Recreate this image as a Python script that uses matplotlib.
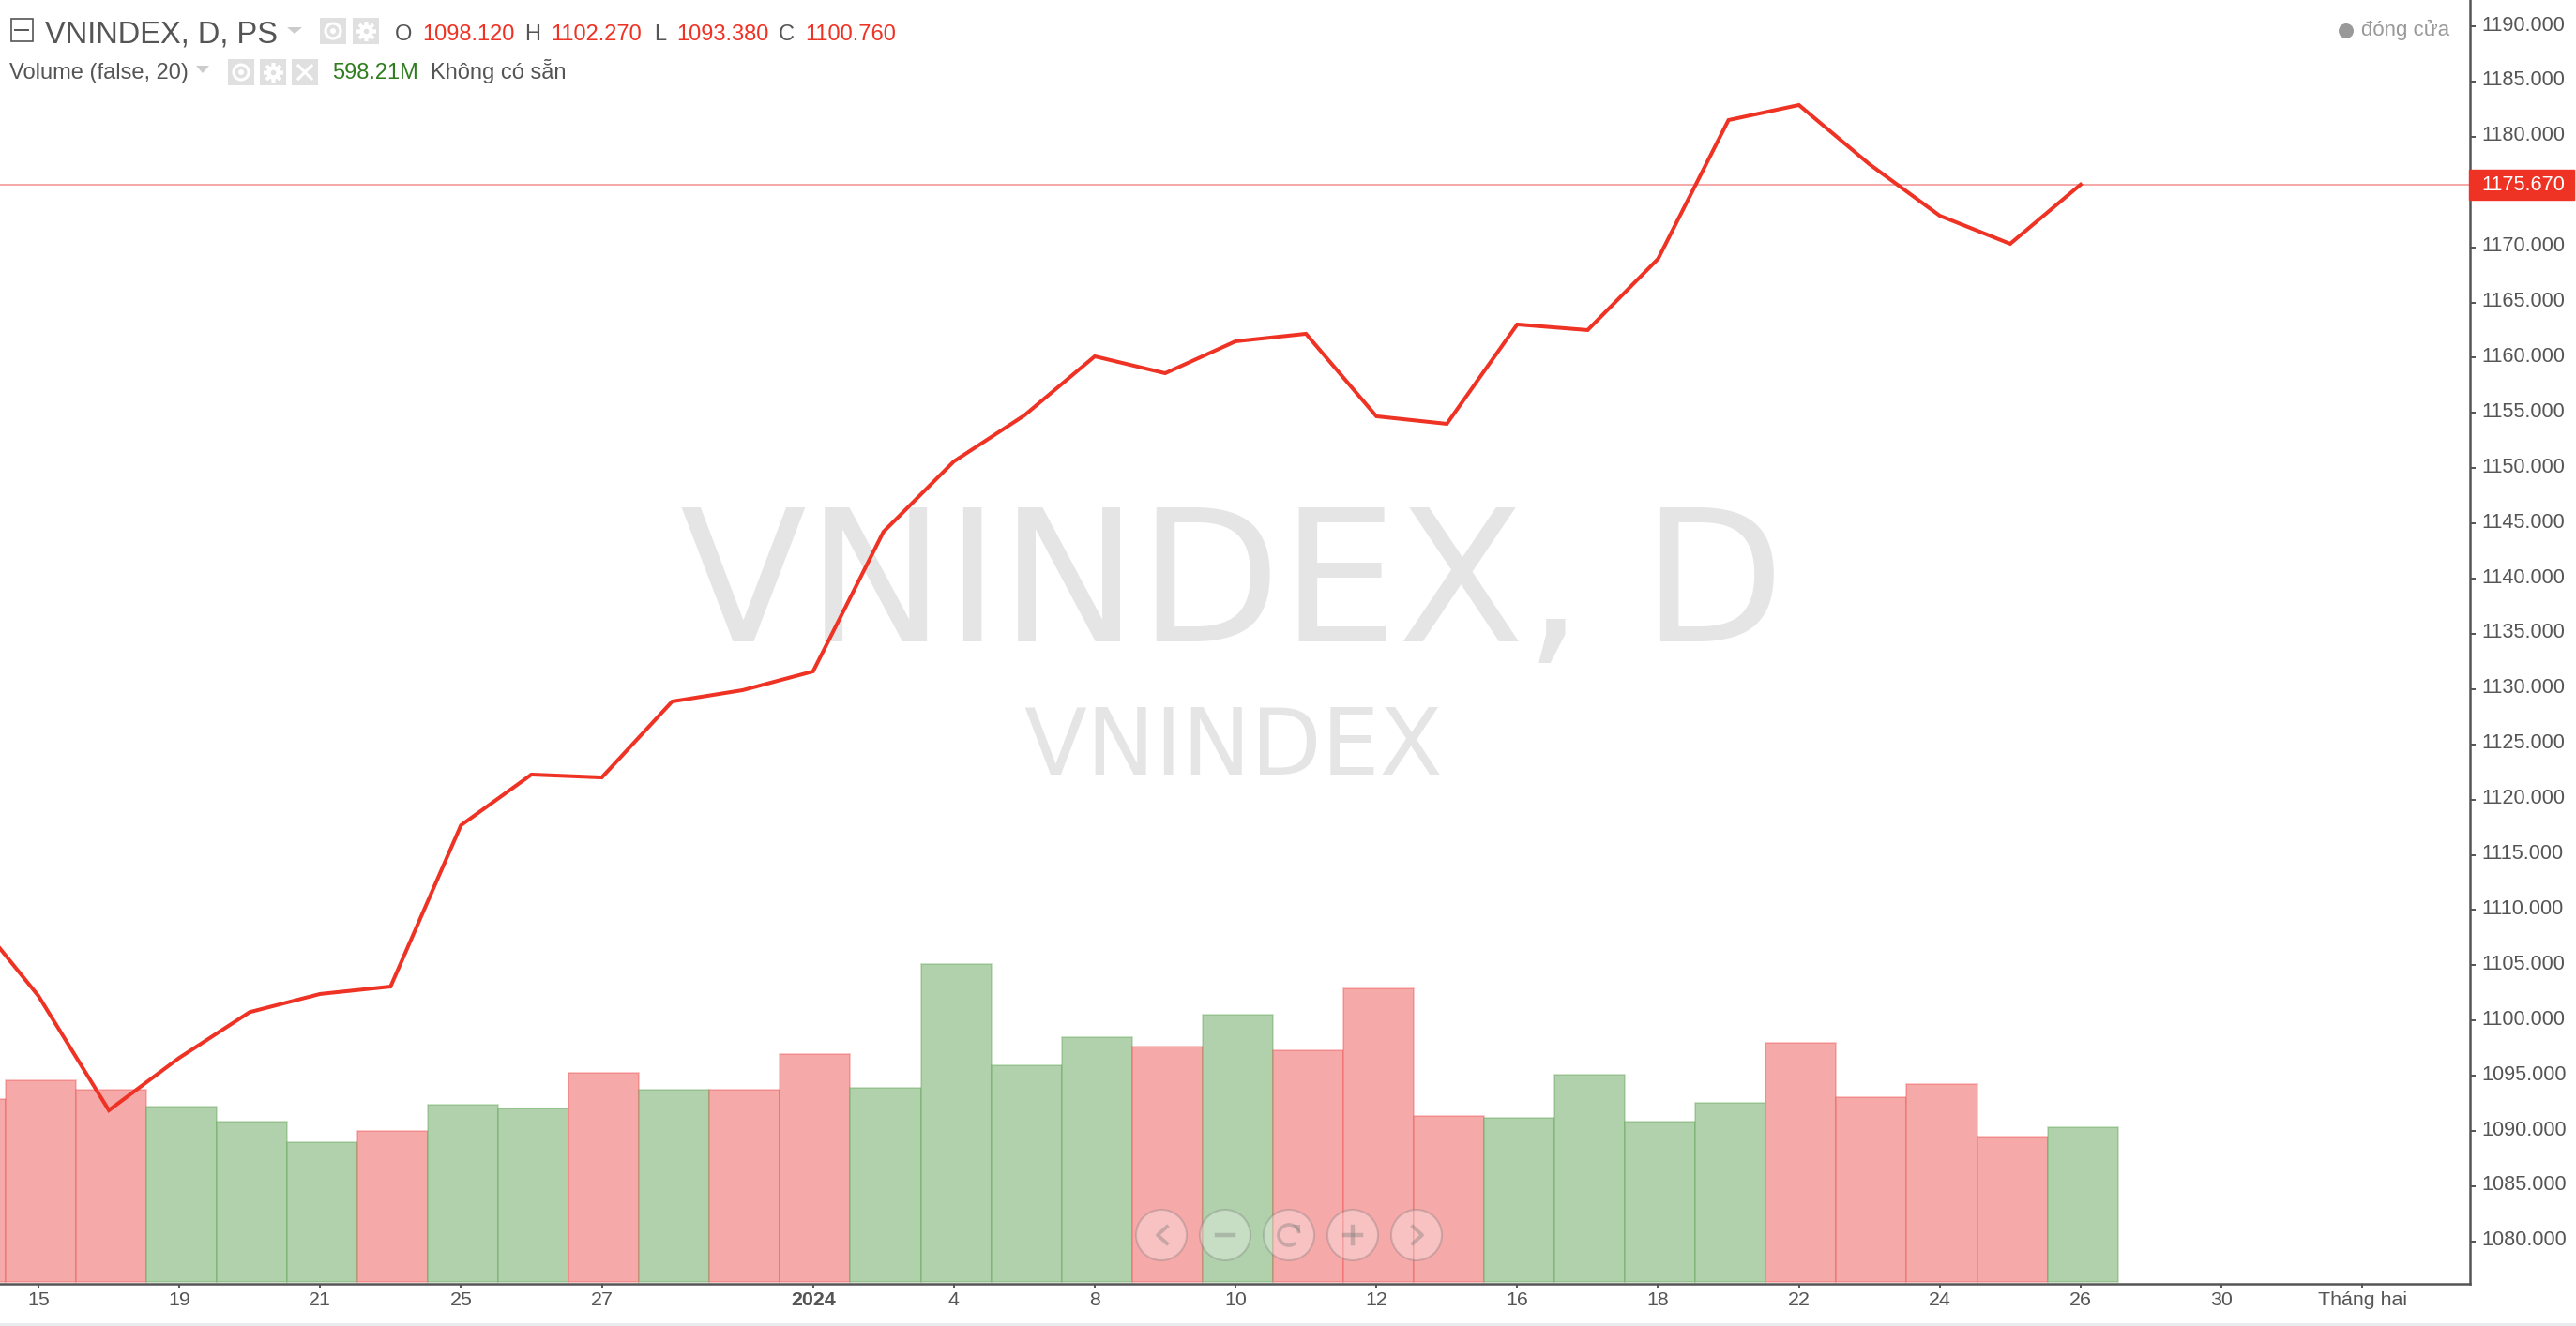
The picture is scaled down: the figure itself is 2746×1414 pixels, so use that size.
import matplotlib
matplotlib.use("Agg")
import matplotlib.pyplot as plt
from matplotlib.patches import Circle, Rectangle, Arc
from matplotlib.transforms import ScaledTranslation, blended_transform_factory

W, H = 2746, 1414

# daily sessions, numbered so that 0 is the session labelled 15
sessions = list(range(-1, 30))
closes = [1110.08, 1102.22, 1091.87, 1096.62, 1100.76, 1102.40, 1103.07, 1117.67, 1122.26, 1122.00,
          1128.88, 1129.90, 1131.60, 1144.24, 1150.61, 1154.77, 1160.12, 1158.59, 1161.48, 1162.16,
          1154.69, 1154.01, 1163.01, 1162.50, 1168.95, 1181.51, 1182.87, 1177.52, 1172.85, 1170.31, 1175.67]
volumes = [650, 717, 683, 623, 570, 497, 537, 630, 617, 743,
           683, 683, 810, 690, 1130, 770, 870, 837, 950, 823,
           1043, 590, 583, 737, 570, 637, 850, 657, 703, 517, 550]
vol_up = [0, 0, 0, 1, 1, 1, 0, 1, 1, 0,
          1, 0, 0, 1, 1, 1, 1, 0, 1, 0,
          0, 0, 1, 1, 1, 1, 0, 0, 0, 0, 1]

x_tick_sessions = [0, 2, 4, 6, 8, 11, 13, 15, 17, 19, 21, 23, 25, 27, 29, 31, 33]
x_tick_labels = ["15", "19", "21", "25", "27", "2024", "4", "8", "10", "12", "16", "18", "22", "24", "26", "30", "Tháng hai"]
y_ticks = list(range(1080, 1195, 5))
last_price = 1175.67

RED = "#EE3224"
GREEN = "#2F7D1E"
TEXT = "#555555"

plt.rcParams["font.family"] = ["Liberation Sans", "DejaVu Sans"]

fig = plt.figure(figsize=(W / 100, H / 100), dpi=100, facecolor="white")
rect = [0, 1 - 1369 / H, 2633 / W, 1369 / H]

# volume sits behind the price line, on its own hidden scale
ax_vol = fig.add_axes(rect, zorder=1)
ax_vol.set_xlim(-0.546, 34.53)
ax_vol.set_ylim(-6.7, 4556.7)
ax_vol.axis("off")
faces = ["#B0D1AB" if u else "#F5A9A9" for u in vol_up]
edges = [(0.30, 0.60, 0.25, 0.3) if u else (0.93, 0.25, 0.25, 0.3) for u in vol_up]
ax_vol.bar([s + 0.03 for s in sessions], volumes, width=1.0, color=faces, edgecolor=edges, linewidth=1.3)

ax_vol.text(725 / W, 1 - 684 / H, "VNINDEX, D", transform=fig.transFigure, family="DejaVu Sans",
            fontsize=142, color="#E5E5E5", ha="left", va="baseline", zorder=0)
ax_vol.text(1315 / W, 1 - 826 / H, "VNINDEX", transform=fig.transFigure, family="DejaVu Sans",
            fontsize=70.5, color="#E5E5E5", ha="center", va="baseline", zorder=0)

ax = fig.add_axes(rect, zorder=2)
ax.patch.set_visible(False)
ax.set_xlim(-0.546, 34.53)
ax.set_ylim(1190 - (1369 - 28) / 11.78, 1190 + 28 / 11.78)
ax.plot(sessions, closes, color=RED, linewidth=2.9, solid_joinstyle="miter", zorder=3)
ax.axhline(last_price, color="#F5A0A0", linewidth=1.3, zorder=1)

for side in ["left", "top"]:
    ax.spines[side].set_visible(False)
for side in ["right", "bottom"]:
    ax.spines[side].set_color(TEXT)
    ax.spines[side].set_linewidth(1.8)

ax.yaxis.tick_right()
ax.set_yticks(y_ticks)
# the 1175 label is hidden by the last price flag
ax.set_yticklabels(["" if v == 1175 else f"{v:.3f}" for v in y_ticks])
ax.set_xticks(x_tick_sessions)
ax.set_xticklabels(x_tick_labels)
ax.tick_params(axis="y", length=4.5, width=1.4, color=TEXT, labelcolor=TEXT, labelsize=15.6, pad=4.5)
ax.tick_params(axis="x", length=3.6, width=1.4, color=TEXT, labelcolor=TEXT, labelsize=15.4, pad=2.5)
ax.get_xticklabels()[x_tick_labels.index("2024")].set_fontweight("bold")
up_a_bit = ScaledTranslation(0, 3.5 / 100, fig.dpi_scale_trans)
for t in ax.get_yticklabels():
    t.set_transform(t.get_transform() + up_a_bit)

# last price flag on the right scale
flag = blended_transform_factory(ax.transAxes, ax.transData)
ax.add_patch(Rectangle((0.9996, last_price - 1.4), 112 / 2633, 2.72, transform=flag, color=RED,
                       clip_on=False, zorder=5))
ax.text(2645 / 2633, last_price - 0.02, f"{last_price:.3f}", transform=flag, color="white", fontsize=15.6,
        va="center", ha="left", zorder=6)

# page chrome drawn in pixel coordinates
ui = fig.add_axes([0, 0, 1, 1], zorder=3)
ui.set_xlim(0, W)
ui.set_ylim(H, 0)
ui.axis("off")
ui.add_patch(Rectangle((0, 1411), W, 3, color="#E9EBEE", lw=0))


def label(x, y, s, color=TEXT, size=17):
    ui.text(x, y, s, color=color, fontsize=size, ha="left", va="baseline")


def icon_box(x, y):
    ui.add_patch(Rectangle((x, y), 28, 28, color="#E0E0E0", lw=0))


def eye(x, y):
    icon_box(x, y)
    ui.add_patch(Circle((x + 14, y + 14), 8, fill=False, ec="white", lw=2.2))
    ui.add_patch(Circle((x + 14, y + 14), 3, color="white", lw=0))


def gear(x, y):
    icon_box(x, y)
    ui.plot([x + 14], [y + 14], marker=(8, 2, 0), ms=15, mew=2.6, color="white")
    ui.plot([x + 14], [y + 14], marker="o", ms=10.5, color="white", mew=0)
    ui.plot([x + 14], [y + 14], marker="o", ms=4, color="#E0E0E0", mew=0)


# header row 1
ui.add_patch(Rectangle((11.5, 19.5), 23, 24, fill=False, ec=TEXT, lw=1.2))
ui.plot([16, 30], [31.5, 31.5], color=TEXT, lw=1.4)
label(48, 45, "VNINDEX, D, PS", size=23.5)
ui.fill([306, 322, 314], [29, 29, 36], color="#CCCCCC", lw=0)
eye(341, 19)
gear(376, 19)
for x, s in [(421, "O"), (559, "H"), (697, "L"), (830, "C")]:
    label(x, 43, s)
for x, s in [(450, "1098.120"), (587, "1102.270"), (721, "1093.380"), (858, "1100.760")]:
    label(x, 43, s, color=RED)

# header row 2
label(10, 84, "Volume (false, 20)", size=17)
ui.fill([209, 223, 216], [70, 70, 78], color="#CCCCCC", lw=0)
eye(243, 63)
gear(277, 63)
icon_box(311, 63)
ui.plot([318, 332], [70, 84], color="white", lw=2.2)
ui.plot([332, 318], [70, 84], color="white", lw=2.2)
label(354, 84, "598.21M", color=GREEN, size=17)
label(459, 84, "Không có sẵn", size=17)

ui.add_patch(Circle((2501, 33), 8, color="#999999", lw=0))
label(2517, 38, "đóng cửa", color="#999999", size=16)

# zoom and scroll buttons
btn_y = 1317
for bx in [1238, 1306, 1374, 1442, 1510]:
    ui.add_patch(Circle((bx, btn_y), 27, fc=(1, 1, 1, 0.3), ec=(0.45, 0.45, 0.45, 0.3), lw=1.5))
glyph = (0.45, 0.45, 0.45, 0.35)
ui.plot([1244, 1234, 1244], [1308, 1317, 1326], color=glyph, lw=2.8)
ui.plot([1297, 1315], [1317, 1317], color=glyph, lw=3.2)
ui.add_patch(Arc((1374, btn_y), 22, 22, theta1=-310, theta2=-10, color=glyph, lw=2.6))
ui.fill([1378, 1386, 1386], [1306, 1306, 1315], color=glyph, lw=0)
ui.plot([1433, 1451], [1317, 1317], color=glyph, lw=3.2)
ui.plot([1442, 1442], [1308, 1326], color=glyph, lw=3.2)
ui.plot([1506, 1516, 1506], [1308, 1317, 1326], color=glyph, lw=2.8)

fig.savefig("out.png", dpi=100)
